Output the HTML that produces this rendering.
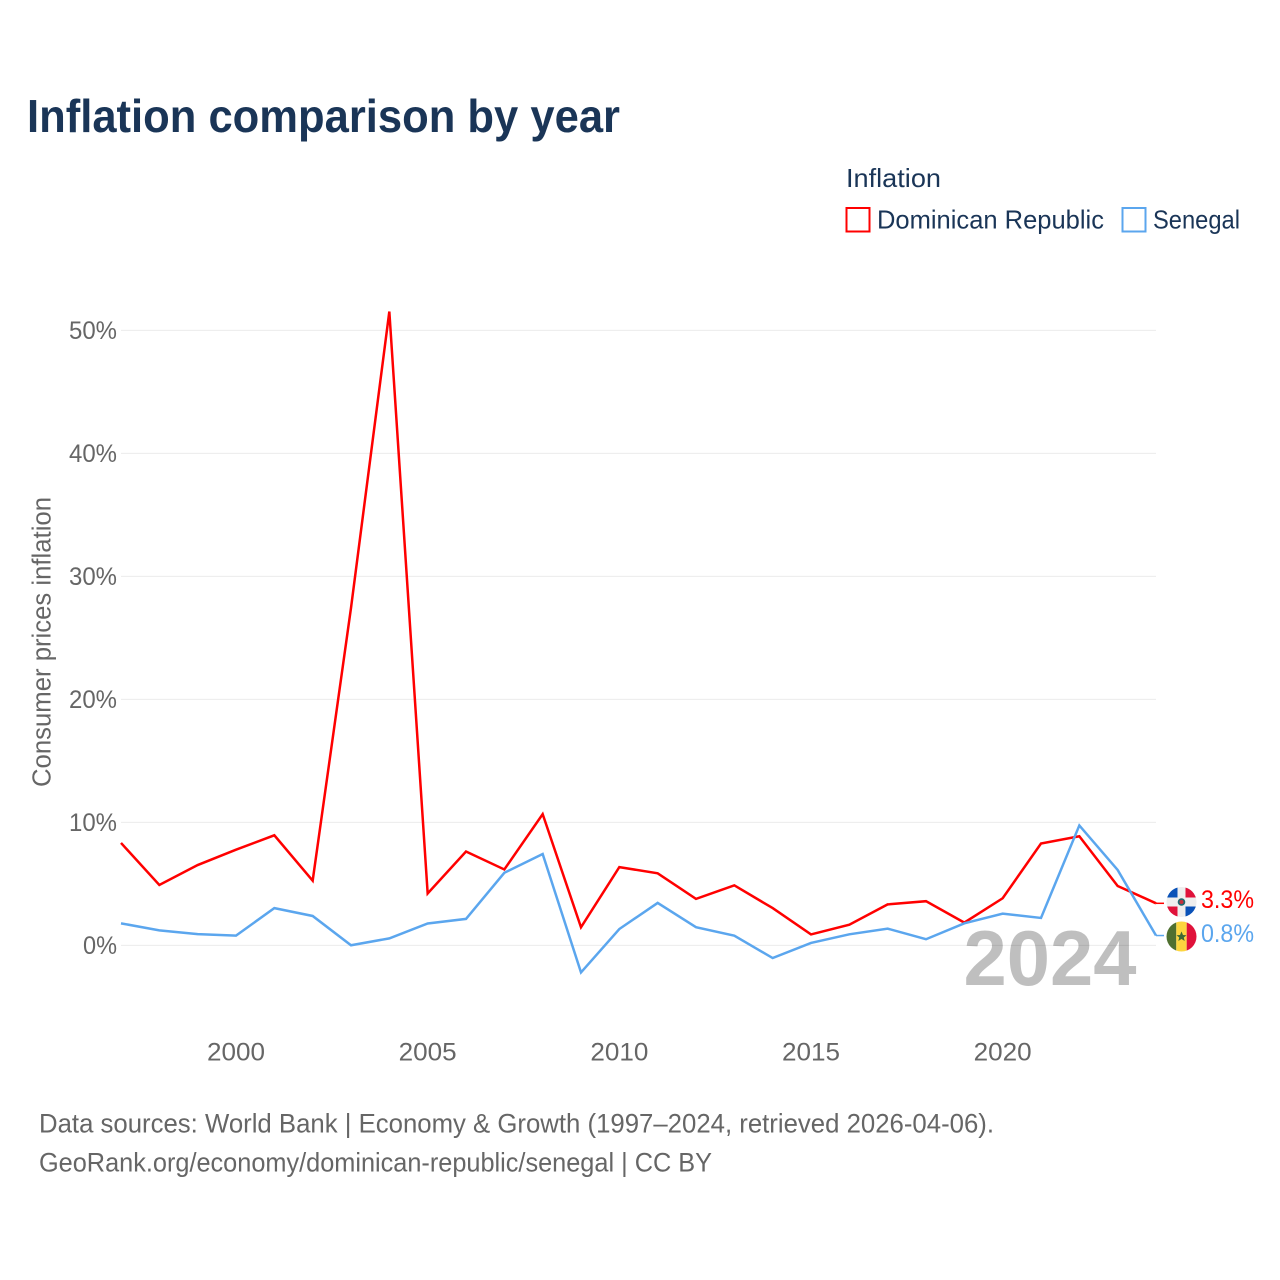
<!DOCTYPE html>
<html lang="en">
<head>
<meta charset="utf-8">
<title>Inflation comparison by year</title>
<style>
  html, body { margin: 0; padding: 0; background: #fff; }
  svg { display: block; font-family: "Liberation Sans", Arial, sans-serif; }
</style>
</head>
<body>
<svg id="chart" xmlns="http://www.w3.org/2000/svg" width="1280" height="1280" viewBox="0 0 1280 1280">
  <rect x="0" y="0" width="1280" height="1280" fill="#ffffff"/>
  <text x="27" y="132" font-size="46" font-weight="700" fill="#1a3557" textLength="593" lengthAdjust="spacingAndGlyphs">Inflation comparison by year</text>

  <g>
    <text x="846" y="187" font-size="26" fill="#1a3557" textLength="95" lengthAdjust="spacingAndGlyphs">Inflation</text>
    <g>
      <rect x="846.5" y="208" width="23" height="23.5" fill="none" stroke="#ff0000" stroke-width="2"/>
      <text x="877" y="228.5" font-size="26" fill="#1a3557" textLength="227" lengthAdjust="spacingAndGlyphs">Dominican Republic</text>
    </g>
    <g>
      <rect x="1122.5" y="208" width="23" height="23.5" fill="none" stroke="#5ba6ee" stroke-width="2"/>
      <text x="1153" y="228.5" font-size="26" fill="#1a3557" textLength="87" lengthAdjust="spacingAndGlyphs">Senegal</text>
    </g>
  </g>

  <g id="grid"></g>
  <g id="ytick-labels"></g>
  <g id="xtick-labels"></g>
  <text transform="translate(50.5,787) rotate(-90)" x="0" y="0" font-size="25.5" fill="#666666" textLength="290" lengthAdjust="spacingAndGlyphs">Consumer prices inflation</text>

  <text x="963.5" y="985" font-size="78" font-weight="700" fill="#000000" fill-opacity="0.25" textLength="173" lengthAdjust="spacingAndGlyphs">2024</text>

  <path id="line-dr" fill="none" stroke="#ff0000" stroke-width="2.5" stroke-linejoin="miter"/>
  <path id="line-sn" fill="none" stroke="#5ba6ee" stroke-width="2.5" stroke-linejoin="miter"/>
  <path id="connector-dr" fill="none" stroke="#ff0000" stroke-width="1.5"/>
  <path id="connector-sn" fill="none" stroke="#5ba6ee" stroke-width="1.5"/>

  <defs>
    <clipPath id="clip-dr"><circle cx="1181.5" cy="902" r="15"/></clipPath>
    <clipPath id="clip-sn"><circle cx="1181.5" cy="936.5" r="15"/></clipPath>
  </defs>
  <g clip-path="url(#clip-dr)">
    <rect x="1166" y="886" width="31" height="32" fill="#eeeeee"/>
    <rect x="1166" y="886" width="11.5" height="11.5" fill="#0a52b8"/>
    <rect x="1185.5" y="886" width="11.5" height="11.5" fill="#e0123a"/>
    <rect x="1166" y="906.5" width="11.5" height="11.5" fill="#e0123a"/>
    <rect x="1185.5" y="906.5" width="11.5" height="11.5" fill="#0a52b8"/>
    <circle cx="1181.5" cy="902" r="3.8" fill="#1f6a70"/>
    <circle cx="1181.5" cy="902" r="2" fill="#c8323c"/>
  </g>
  <g clip-path="url(#clip-sn)">
    <rect x="1166" y="921" width="10.3" height="31" fill="#4f7030"/>
    <rect x="1176.3" y="921" width="10.4" height="31" fill="#fdd63f"/>
    <rect x="1186.7" y="921" width="10.3" height="31" fill="#e0123a"/>
    <polygon points="1181.5,931.5 1183,935 1186.5,935.2 1183.8,937.5 1184.7,941 1181.5,939 1178.3,941 1179.2,937.5 1176.5,935.2 1180,935" fill="#3f6a35"/>
  </g>

  <text id="value-dr" x="1201" y="908" font-size="25" fill="#ff0000" textLength="53" lengthAdjust="spacingAndGlyphs"></text>
  <text id="value-sn" x="1201" y="942" font-size="25" fill="#5ba6ee" textLength="53" lengthAdjust="spacingAndGlyphs"></text>

  <g>
    <text x="39" y="1132.5" font-size="26.5" fill="#666666" textLength="955" lengthAdjust="spacingAndGlyphs">Data sources: World Bank | Economy &amp; Growth (1997–2024, retrieved 2026-04-06).</text>
    <text x="39" y="1171.5" font-size="26.5" fill="#666666" textLength="673" lengthAdjust="spacingAndGlyphs">GeoRank.org/economy/dominican-republic/senegal | CC BY</text>
  </g>
</svg>
<script>
const years = [1997,1998,1999,2000,2001,2002,2003,2004,2005,2006,2007,2008,2009,2010,2011,2012,2013,2014,2015,2016,2017,2018,2019,2020,2021,2022,2023,2024];
const dominicanRepublic = [8.3,4.88,6.5,7.75,8.92,5.23,27.4,51.5,4.19,7.6,6.14,10.64,1.44,6.33,5.83,3.75,4.85,3.0,0.86,1.65,3.3,3.56,1.82,3.8,8.25,8.84,4.8,3.39];
const senegal = [1.76,1.19,0.88,0.76,3.0,2.36,-0.02,0.54,1.75,2.12,5.87,7.4,-2.23,1.3,3.42,1.45,0.76,-1.06,0.17,0.87,1.33,0.47,1.76,2.55,2.2,9.72,6.1,0.77];
const yTickValues = [0,10,20,30,40,50];
const yTickLabels = ["0%","10%","20%","30%","40%","50%"];
const xTickValues = [2000,2005,2010,2015,2020];
const xTickLabels = ["2000","2005","2010","2015","2020"];
const endLabelDominicanRepublic = "3.3%";
const endLabelSenegal = "0.8%";

const xScale = function (year) { return 121 + (year - 1997) * (1156 - 121) / 27; };
const yScale = function (value) { return 945 - value * 12.3; };
const NS = 'http://www.w3.org/2000/svg';

function linePath(values) {
  return values.map(function (v, i) {
    return (i ? 'L' : 'M') + xScale(years[i]).toFixed(2) + ' ' + yScale(v).toFixed(2);
  }).join(' ');
}

const grid = document.getElementById('grid');
const yLabels = document.getElementById('ytick-labels');
yTickValues.forEach(function (v, i) {
  const line = document.createElementNS(NS, 'line');
  
  
  line.setAttribute('x1', 121);
  line.setAttribute('x2', 1156);
  line.setAttribute('y1', yScale(v) + 0.4);
  line.setAttribute('y2', yScale(v) + 0.4);
  line.setAttribute('stroke', '#ebebeb');
  line.setAttribute('stroke-width', 1);
  grid.appendChild(line);

  const t = document.createElementNS(NS, 'text');
  
  
  t.setAttribute('x', 117 - (yTickLabels[i].length === 2 ? 34 : 48));
  t.setAttribute('y', yScale(v) + 9);
  t.setAttribute('font-size', 25);
  t.setAttribute('fill', '#666666');
  t.setAttribute('textLength', yTickLabels[i].length === 2 ? 34 : 48);
  t.setAttribute('lengthAdjust', 'spacingAndGlyphs');
  t.textContent = yTickLabels[i];
  yLabels.appendChild(t);
});

const xLabels = document.getElementById('xtick-labels');
xTickValues.forEach(function (v, i) {
  const t = document.createElementNS(NS, 'text');
  
  
  t.setAttribute('x', xScale(v) - 29);
  t.setAttribute('y', 1060.5);
  t.setAttribute('font-size', 25);
  t.setAttribute('fill', '#666666');
  t.setAttribute('textLength', 58);
  t.setAttribute('lengthAdjust', 'spacingAndGlyphs');
  t.textContent = xTickLabels[i];
  xLabels.appendChild(t);
});

document.getElementById('line-dr').setAttribute('d', linePath(dominicanRepublic));
document.getElementById('line-sn').setAttribute('d', linePath(senegal));

const lastX = xScale(years[years.length - 1]);
const drEnd = yScale(dominicanRepublic[dominicanRepublic.length - 1]);
const snEnd = yScale(senegal[senegal.length - 1]);
document.getElementById('connector-dr').setAttribute('d', 'M' + lastX + ' ' + drEnd + ' L1164 ' + drEnd);
document.getElementById('connector-sn').setAttribute('d', 'M' + lastX + ' ' + snEnd + ' L1164 ' + snEnd);
document.getElementById('value-dr').textContent = endLabelDominicanRepublic;
document.getElementById('value-sn').textContent = endLabelSenegal;
</script>
</body>
</html>
